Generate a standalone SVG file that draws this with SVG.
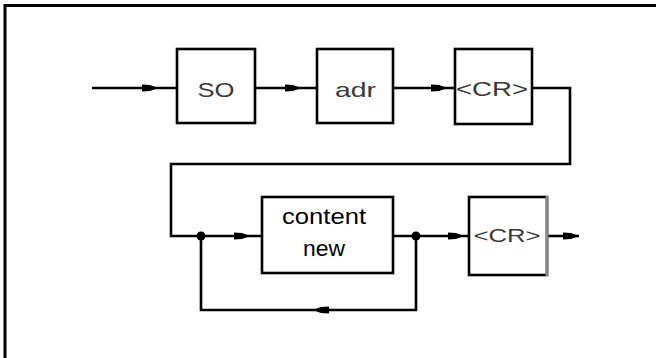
<svg xmlns="http://www.w3.org/2000/svg" width="656" height="358" viewBox="0 0 656 358">
<style>
.box{fill:#fff;stroke:#000;stroke-width:2.6}
.ln{fill:none;stroke:#000;stroke-width:2.6}
.lbl{font-family:"Liberation Sans",Arial,sans-serif;fill:#3a3a3a;text-anchor:middle}
.blk{font-family:"Liberation Sans",Arial,sans-serif;fill:#000;text-anchor:middle;font-size:22px}
</style>
<defs>
<path id="ah" d="M-16,-3.5 L-8,-3 L0,0 L-8,3 L-16,3.5 Z" fill="#000"/>
</defs>
<rect width="656" height="358" fill="#fff"/>
<path d="M5,358 V5.5 H656" fill="none" stroke="#000" stroke-width="3"/>
<g id="connectors">
<path class="ln" d="M92,88 H177"/>
<path class="ln" d="M255,88 H317"/>
<path class="ln" d="M393,88 H455"/>
<path class="ln" d="M532,88 H570 V164 H171 V236 H262"/>
<path class="ln" d="M393,236 H469"/>
<path class="ln" d="M547,236 H579"/>
<path class="ln" d="M201,236 V310 H416 V236"/>
<circle cx="201" cy="236" r="4.5" fill="#000"/>
<circle cx="416" cy="236" r="4.5" fill="#000"/>
<use href="#ah" transform="translate(158,88)"/>
<use href="#ah" transform="translate(301,88)"/>
<use href="#ah" transform="translate(447,88)"/>
<use href="#ah" transform="translate(250,236)"/>
<use href="#ah" transform="translate(464,236)"/>
<use href="#ah" transform="translate(579,236)"/>
<use href="#ah" transform="translate(313,310) rotate(180)"/>
</g>
<g id="so">
<rect class="box" x="177" y="49" width="78" height="74"/>
<text class="lbl" x="216" y="97" font-size="21" textLength="37" lengthAdjust="spacingAndGlyphs">SO</text>
</g>
<g id="adr">
<rect class="box" x="317" y="49" width="76" height="74"/>
<text class="lbl" x="355.5" y="97" font-size="21" textLength="41" lengthAdjust="spacingAndGlyphs">adr</text>
</g>
<g id="cr1">
<rect class="box" x="455" y="49" width="77" height="75"/>
<text class="lbl" x="492" y="96" font-size="21" textLength="72" lengthAdjust="spacingAndGlyphs">&lt;CR&gt;</text>
</g>
<g id="content">
<rect class="box" x="262" y="197" width="131" height="76"/>
<text class="blk" x="324" y="224" textLength="84" lengthAdjust="spacingAndGlyphs">content</text>
<text class="blk" x="324" y="256" textLength="42" lengthAdjust="spacingAndGlyphs">new</text>
</g>
<g id="cr2">
<rect class="box" x="469" y="197" width="78" height="78"/>
<line x1="547" y1="196" x2="547" y2="276" stroke="#888" stroke-width="3"/>
<text class="lbl" x="507" y="242" font-size="19" textLength="67" lengthAdjust="spacingAndGlyphs">&lt;CR&gt;</text>
</g>
</svg>
